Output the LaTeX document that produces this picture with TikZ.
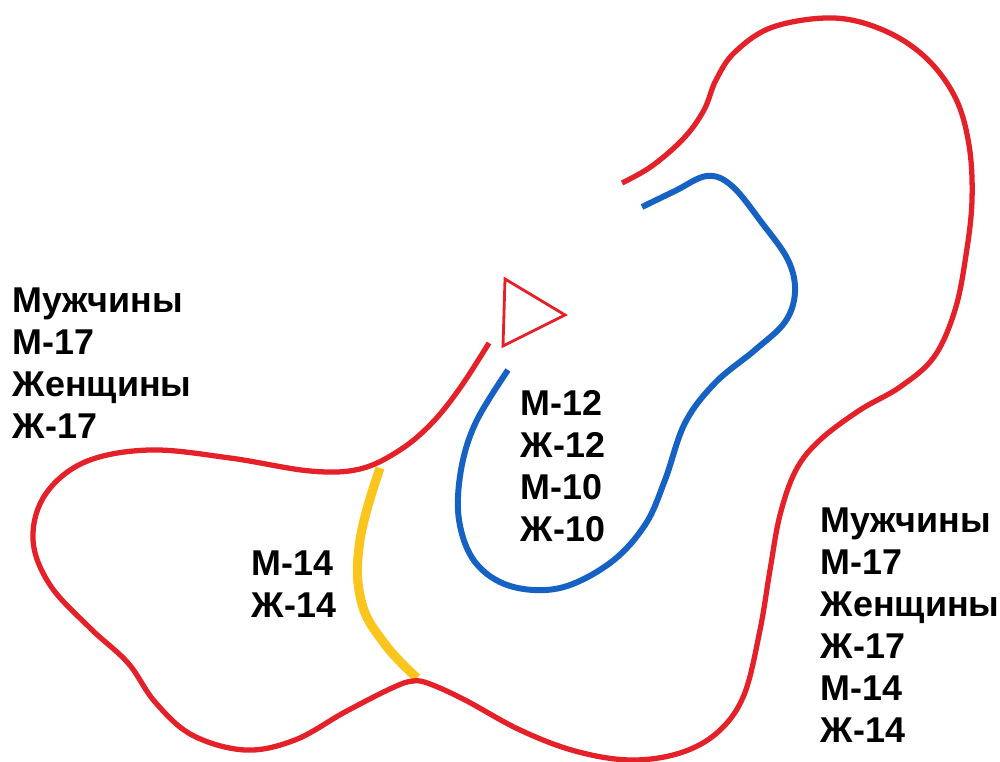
\documentclass[tikz,border=0pt]{standalone}
\usepackage{fontspec}
\setmainfont{Liberation Sans}
\definecolor{routeRed}{RGB}{228,32,40}
\definecolor{routeBlue}{RGB}{22,98,196}
\definecolor{routeYellow}{RGB}{250,198,30}

\begin{document}
\begin{tikzpicture}[x=0.01cm, y=-0.01cm,
  redroute/.style={routeRed, line width=1.5pt},
  blueroute/.style={routeBlue, line width=1.7pt},
  yellowroute/.style={routeYellow, line width=2.6pt},
  label/.style={anchor=west, align=left, inner sep=0pt,
    font=\bfseries\fontsize{10.2}{11.95}\selectfont}]
\useasboundingbox (0,0) rectangle (1000,762);
% short loop
\draw[yellowroute] plot[smooth, tension=0.7] coordinates
  {(380,468) (360,540) (361,600) (384,643) (417,678)};
% main loop
\draw[redroute] plot[smooth, tension=0.6] coordinates
  {(622,183) (652,166) (684,138) (704,110) (716,80) (735,52)
   (773,27) (833,18) (883,30) (925,57) (955,97) (969,145)
   (972,200) (966,255) (955,310) (934,357) (900,387) (860,410)
   (820,440) (796,470) (780,515) (770,570) (760,630)
   (744,695) (718,732) (680,753) (630,760) (575,751) (520,730)
   (465,700) (430,684) (413,681) (392,688) (345,712) (295,740) (245,750)
   (192,735) (155,702) (128,663) (90,628) (50,585) (33,540) (45,495)
   (85,462) (150,450) (230,458) (310,471) (360,469) (400,450)
   (432,423) (460,388) (489,343)};
% inner loop
\draw[blueroute] plot[smooth, tension=0.6] coordinates
  {(642,207) (675,191) (707,176) (732,186) (762,223) (788,260) (795,292)
   (785,322) (755,350) (715,383) (685,423) (665,480) (645,525)
   (610,563) (560,588) (510,586) (475,562) (459,520) (461,470)
   (476,422) (508,370)};
% start
\draw[routeRed, line width=0.8pt] (505,279) -- (565,315) -- (503,346) -- cycle;
\node[label] (longL) at (12,363) {Мужчины\\М-17\\Женщины\\Ж-17};
\node[label] (longR) at (820,625) {Мужчины\\М-17\\Женщины\\Ж-17\\М-14\\Ж-14};
\node[label] (shortC) at (520,466) {М-12\\Ж-12\\М-10\\Ж-10};
\node[label] (midC) at (251,584) {М-14\\Ж-14};
\end{tikzpicture}
\end{document}
